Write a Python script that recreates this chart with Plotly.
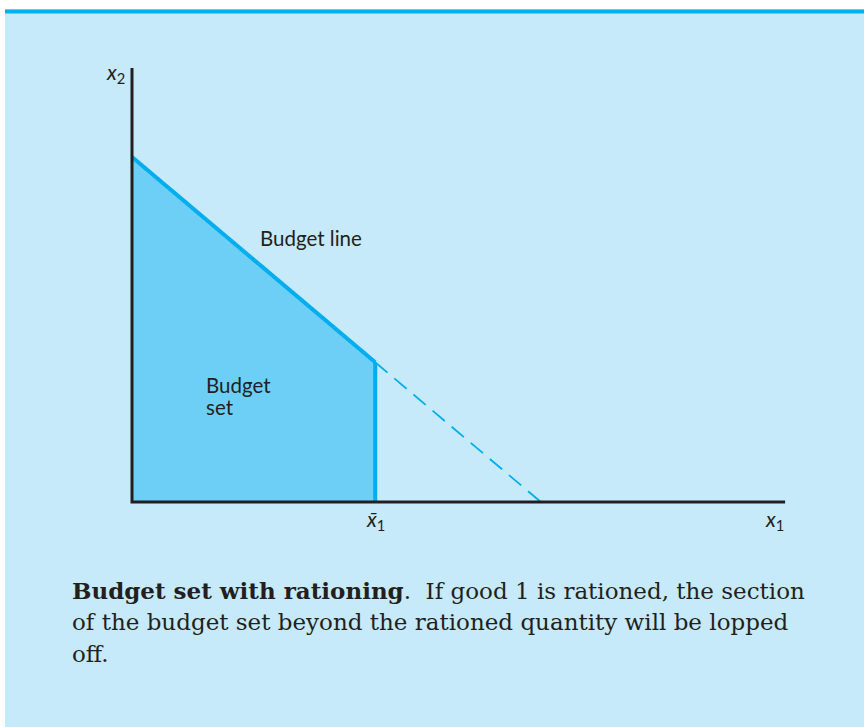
import plotly.graph_objects as go

# ---- data (economic units) ----
x1_intercept = 11.85      # m / p1
x2_intercept = 10.0       # m / p2
x1_bar = 7.05             # rationed quantity of good 1
x1_axis_max = 18.93
x2_axis_max = 12.58

slope = -x2_intercept / x1_intercept
x2_at_bar = x2_intercept + slope * x1_bar

set_x = [0, 0, x1_bar, x1_bar, 0]
set_y = [0, x2_intercept, x2_at_bar, 0, 0]
line_solid_x = [0, x1_bar]
line_solid_y = [x2_intercept, x2_at_bar]
line_dash_x = [x1_bar, x1_intercept]
line_dash_y = [x2_at_bar, 0]

caption_lines = [
    "<b>Budget set with rationing</b>.  If good 1 is rationed, the section",
    "of the budget set beyond the rationed quantity will be lopped",
    "off.",
]

# ---- layout geometry ----
W, H = 864, 727
ox, oy = 132, 502          # origin pixel
s = 34.5                   # px per unit
xr = [-ox / s, (W - ox) / s]
yr = [-(H - oy) / s, oy / s]

LINE = "#00aeef"
FILL = "#6dcff6"
AX = "#231f20"
BG = "#c6eaf9"

fig = go.Figure()
fig.add_trace(go.Scatter(x=set_x, y=set_y, fill="toself", fillcolor=FILL,
                         mode="none", hoverinfo="skip"))
fig.add_trace(go.Scatter(x=line_dash_x, y=line_dash_y, mode="lines",
                         line=dict(color=LINE, width=1.8, dash="16px,9px")))
fig.add_trace(go.Scatter(x=line_solid_x, y=line_solid_y, mode="lines",
                         line=dict(color=LINE, width=4)))
fig.add_trace(go.Scatter(x=[x1_bar, x1_bar], y=[0, x2_at_bar], mode="lines",
                         line=dict(color=LINE, width=4)))
# axes
fig.add_trace(go.Scatter(x=[0, 0, x1_axis_max], y=[x2_axis_max, 0, 0], mode="lines",
                         line=dict(color=AX, width=3)))

shapes = [
    dict(type="rect", xref="paper", yref="paper", x0=5 / W, x1=1, y0=0, y1=1 - 9 / H,
         fillcolor=BG, line=dict(width=0), layer="below"),
    dict(type="rect", xref="paper", yref="paper", x0=5 / W, x1=1, y0=1 - 13.5 / H, y1=1 - 9.5 / H,
         fillcolor="#00b0f0", line=dict(width=0), layer="below"),
]

sans = dict(family="Lato, 'Noto Sans', sans-serif", size=20.5, color=AX)
sym = dict(family="Lato, 'Noto Sans', sans-serif", size=21, color=AX)
ann = [
    dict(x=3.65, y=7.65, text="Budget line", showarrow=False, font=sans,
         xanchor="left", yanchor="middle"),
    dict(x=2.08, y=3.39, text="Budget", showarrow=False, font=sans,
         xanchor="left", yanchor="middle"),
    dict(x=2.08, y=2.75, text="set", showarrow=False, font=sans,
         xanchor="left", yanchor="middle"),
    dict(x=-0.15, y=x2_axis_max - 0.15, text="<i>x</i><sub>2</sub>", showarrow=False,
         font=sym, xanchor="right", yanchor="middle"),
    dict(x=x1_axis_max - 0.3, y=-0.52, text="<i>x</i><sub>1</sub>", showarrow=False,
         font=sym, xanchor="center", yanchor="middle"),
    dict(x=x1_bar, y=-0.52, text="<i>x̄</i><sub>1</sub>", showarrow=False,
         font=sym, xanchor="center", yanchor="middle"),
]
for i, t in enumerate(caption_lines):
    ann.append(dict(xref="paper", yref="paper", x=70 / W, y=1 - (590 + 32 * i) / H,
                    text=t, showarrow=False, xanchor="left", yanchor="middle",
                    font=dict(family="'DejaVu Serif', serif", size=23, color=AX)))

fig.update_layout(
    width=W, height=H, margin=dict(l=0, r=0, t=0, b=0),
    paper_bgcolor="white", plot_bgcolor="rgba(0,0,0,0)",
    showlegend=False, shapes=shapes, annotations=ann,
    xaxis=dict(range=xr, visible=False, fixedrange=True),
    yaxis=dict(range=yr, visible=False, fixedrange=True),
)
fig.write_html("out.html", config={"displayModeBar": False},
               post_script="document.body.style.margin='0px';document.body.style.overflow='hidden';")
